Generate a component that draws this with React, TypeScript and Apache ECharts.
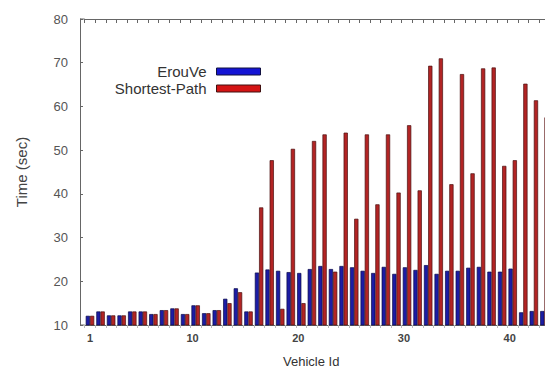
import React, { useEffect, useRef } from "react";
import * as echarts from "echarts";

const vehicleIds = [
  "1", "2", "3", "4", "5", "6", "7", "8", "9", "10",
  "11", "12", "13", "14", "15", "16", "17", "18", "19", "20",
  "21", "22", "23", "24", "25", "26", "27", "28", "29", "30",
  "31", "32", "33", "34", "35", "36", "37", "38", "39", "40",
  "41", "42", "43", "44",
];

const erouVe = [
  12.1, 13.1, 12.2, 12.2, 13.1, 13.1, 12.5, 13.4, 13.8, 12.5,
  14.5, 12.7, 13.4, 16.0, 18.4, 13.1, 22.0, 22.7, 22.4, 22.1,
  21.9, 22.8, 23.5, 22.8, 23.5, 23.2, 22.4, 21.9, 23.3, 21.7,
  23.2, 22.6, 23.7, 21.7, 22.4, 22.4, 23.1, 23.3, 22.2, 22.2,
  22.9, 12.9, 13.2, 13.2,
];

const shortestPath = [
  12.1, 13.1, 12.2, 12.2, 13.1, 13.1, 12.5, 13.4, 13.8, 12.5,
  14.5, 12.7, 13.4, 15.0, 17.5, 13.1, 36.9, 47.7, 13.7, 50.3,
  15.0, 52.1, 53.6, 22.2, 54.0, 34.3, 53.6, 37.6, 53.6, 40.3,
  55.7, 40.8, 69.3, 71.0, 42.2, 67.4, 44.7, 68.7, 68.9, 46.4,
  47.7, 65.2, 61.4, 57.5,
];

const shownXLabels = ["1", "10", "20", "30", "40"];

const FONT = "Liberation Sans, Arial, sans-serif";
const CHART_W = 600;

export default function App() {
  const ref = useRef<HTMLDivElement>(null);

  useEffect(() => {
    if (!ref.current) return;
    const chart = echarts.init(ref.current, null, { renderer: "svg" });
    const gridLeft = 84.7;
    const gridTop = 19;
    const gridBottomY = 325;
    chart.setOption({
      animation: false,
      backgroundColor: "#ffffff",
      grid: {
        left: gridLeft,
        top: gridTop,
        width: 465,
        height: gridBottomY - gridTop,
        containLabel: false,
      },
      legend: {
        orient: "vertical",
        align: "right",
        right: CHART_W - 266,
        top: 59,
        itemWidth: 44,
        itemHeight: 7,
        itemGap: 2,
        icon: "rect",
        textStyle: { fontSize: 15, color: "#333", fontFamily: FONT, padding: [0, 5, 0, 0] },
        data: [
          { name: "ErouVe", itemStyle: { color: "#1414d4", borderColor: "#101040", borderWidth: 1 } },
          { name: "Shortest-Path", itemStyle: { color: "#d41414", borderColor: "#401010", borderWidth: 1 } },
        ],
      },
      xAxis: [
        {
          type: "category",
          data: vehicleIds,
          position: "bottom",
          axisLine: { show: true, lineStyle: { color: "#666", width: 1 } },
          axisTick: { show: true, interval: 0, length: 3, lineStyle: { color: "#bbb" } },
          axisLabel: {
            interval: (_i: number, v: string) => shownXLabels.includes(v),
            margin: 7,
            fontSize: 11,
            fontWeight: "bold",
            color: "#444",
            fontFamily: FONT,
            formatter: (v: string) => (v === "1" ? v : `{s|${v}}`),
            rich: {
              s: { padding: [0, 0, 0, 15], fontSize: 11, fontWeight: "bold", color: "#444", fontFamily: FONT },
            },
          },
          name: "Vehicle Id",
          nameLocation: "middle",
          nameGap: 30,
          nameTextStyle: { fontSize: 13, color: "#333", fontFamily: FONT, padding: [0, 12, 0, 0] },
        },
        {
          type: "category",
          data: vehicleIds,
          position: "top",
          axisLine: { show: true, lineStyle: { color: "#666", width: 1 } },
          axisTick: { show: true, inside: true, interval: 0, length: 4, lineStyle: { color: "#666" } },
          axisLabel: { show: false },
        },
      ],
      yAxis: {
        type: "value",
        min: 10,
        max: 80,
        interval: 10,
        offset: 4.7,
        axisLine: { show: true, lineStyle: { color: "#666", width: 1 } },
        axisTick: { show: true, inside: true, length: 3, lineStyle: { color: "#666" } },
        splitLine: { show: false },
        axisLabel: { fontSize: 13, color: "#555", margin: 12, fontFamily: FONT },
        name: "Time (sec)",
        nameLocation: "middle",
        nameGap: 51,
        nameTextStyle: { fontSize: 15, color: "#444", fontFamily: FONT },
      },
      graphic: [
        { type: "line", shape: { x1: 80, y1: gridTop, x2: gridLeft, y2: gridTop }, style: { stroke: "#666", lineWidth: 1 } },
        { type: "line", shape: { x1: 80, y1: gridBottomY, x2: gridLeft, y2: gridBottomY }, style: { stroke: "#666", lineWidth: 1 } },
      ],
      series: [
        {
          name: "ErouVe",
          type: "bar",
          data: erouVe,
          barGap: "0%",
          barCategoryGap: "20%",
          itemStyle: { color: "#1c1ca4", borderColor: "#0a0a48", borderWidth: 0.7 },
        },
        {
          name: "Shortest-Path",
          type: "bar",
          data: shortestPath,
          barGap: "0%",
          barCategoryGap: "20%",
          itemStyle: { color: "#b22424", borderColor: "#4a1010", borderWidth: 0.7 },
        },
      ],
    });
    return () => chart.dispose();
  }, []);

  return (
    <div
      ref={ref}
      style={{ position: "fixed", left: 0, top: 0, width: CHART_W, height: 377, background: "#fff" }}
    />
  );
}
